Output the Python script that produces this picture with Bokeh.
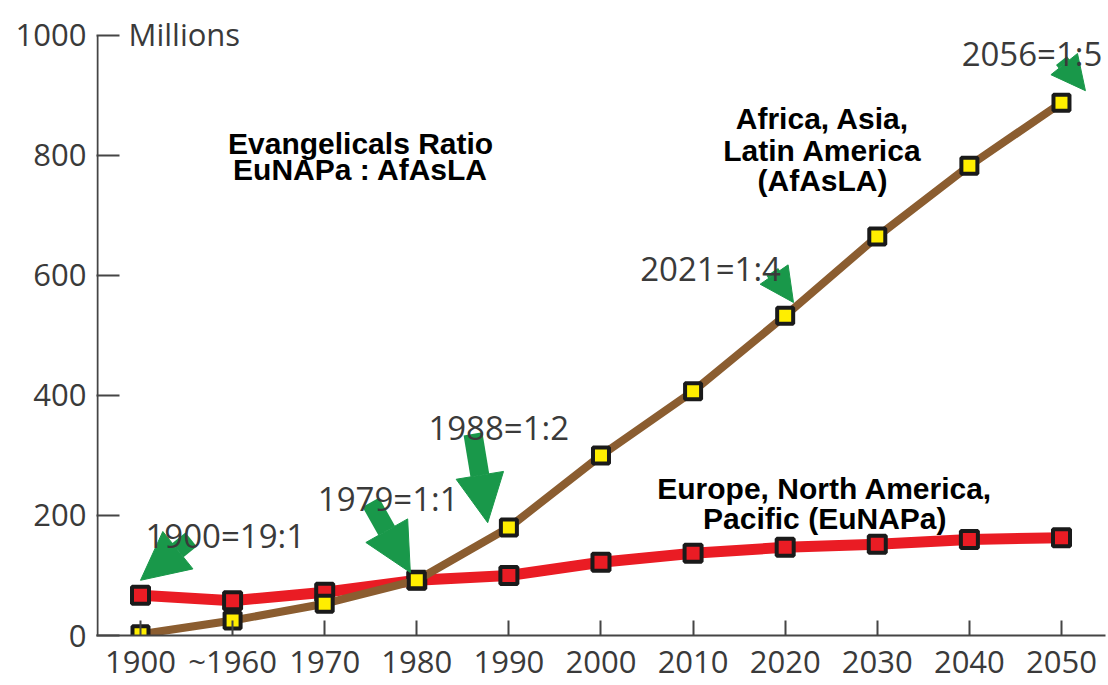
from bokeh.plotting import figure
from bokeh.models import Range1d, FixedTicker, Label, Arrow, NormalHead, ColumnDataSource
from bokeh.embed import file_html
from bokeh.resources import INLINE

# ---- data ----
years = ["1900", "~1960", "1970", "1980", "1990", "2000", "2010", "2020", "2030", "2040", "2050"]
afasla = [2, 25, 53, 92, 180, 300, 407, 533, 665, 783, 888]      # Africa, Asia, Latin America
eunapa = [67, 58, 72, 92, 100, 122, 137, 147, 152, 160, 163]     # Europe, North America, Pacific
y_ticks = [0, 200, 400, 600, 800, 1000]

idx = list(range(len(years)))
src = ColumnDataSource(dict(x=idx, afasla=afasla, eunapa=eunapa))

TXT = "#3a3a3a"
GREEN = "#19984a"
BROWN = "#8b5d30"
RED = "#ea1c24"
AX = "#454545"

X0, X1 = -0.4777, 10.478
Y_TOP = 1058.3

p = figure(width=1108, height=685, output_backend="svg", toolbar_location=None,
           x_range=Range1d(X0, X1), y_range=Range1d(0, Y_TOP),
           min_border_left=96, min_border_right=3, min_border_top=0, min_border_bottom=50)
p.outline_line_color = None
p.grid.visible = False
p.background_fill_color = "white"
p.border_fill_color = "white"

# axes
p.xaxis.ticker = FixedTicker(ticks=idx)
p.xaxis.major_label_overrides = {i: years[i] for i in idx}
p.yaxis.ticker = FixedTicker(ticks=y_ticks)
for ax in (p.xaxis, p.yaxis):
    ax.axis_line_color = AX
    ax.axis_line_width = 2
    ax.major_tick_line_color = AX
    ax.major_tick_line_width = 2
    ax.major_tick_out = 0
    ax.minor_tick_line_color = None
    ax.major_label_text_font = "Open Sans"
    ax.major_label_text_font_size = "31px"
    ax.major_label_text_color = TXT
p.xaxis.major_tick_in = 15
p.yaxis.major_tick_in = 23
p.xaxis.major_label_standoff = 4
p.yaxis.major_label_standoff = 10
# the vertical axis line stops at the top tick (1000)
p.yaxis.axis_line_color = None
p.segment(x0=[X0 + 0.011], y0=[0], x1=[X0 + 0.011], y1=[y_ticks[-1]], line_color=AX, line_width=2)

# series
p.line("x", "eunapa", source=src, line_color=RED, line_width=11, line_join="round")
p.scatter("x", "eunapa", source=src, marker="square", size=17, fill_color=RED,
          line_color="#1a1a1a", line_width=4)
p.line("x", "afasla", source=src, line_color=BROWN, line_width=8, line_join="round")
p.scatter("x", "afasla", source=src, marker="square", size=16, fill_color="#ffee00",
          line_color="#1a1a1a", line_width=4)

# green arrows
def arrow(x0, y0, x1, y1, w, hs):
    p.add_layout(Arrow(end=NormalHead(size=hs, fill_color=GREEN, line_color=GREEN, line_width=1),
                       x_start=x0, y_start=y0, x_end=x1, y_end=y1,
                       line_color=GREEN, line_width=w))

arrow(0.55, 160, 0.0, 92, 18, 48)
arrow(2.50, 222, 2.93, 105, 19, 48)
arrow(3.61, 336, 3.77, 188, 19, 48)
arrow(6.86, 606, 7.09, 555, 14, 34)
arrow(10.00, 958, 10.26, 908, 14, 34)

# ratio annotations
def note(x, y, t, size="33px", align="center"):
    p.add_layout(Label(x=x, y=y, text=t, text_font="Open Sans", text_font_size=size,
                       text_color=TXT, text_align=align, text_baseline="alphabetic"))

note(0.92, 167, "1900=19:1")
note(2.69, 228, "1979=1:1")
note(3.89, 347, "1988=1:2")
note(6.19, 612, "2021=1:4")
note(9.68, 970, "2056=1:5")
note(-0.13, 1003, "Millions", size="31px", align="left")

# bold titles
def bold(x, y, t):
    p.add_layout(Label(x=x, y=y, text=t, text_font="Liberation Sans", text_font_style="bold",
                       text_font_size="30px", text_color="black", text_align="center",
                       text_baseline="alphabetic"))

bold(2.39, 820, "Evangelicals Ratio")
bold(2.39, 777, "EuNAPa : AfAsLA")
bold(7.405, 862, "Africa, Asia,")
bold(7.405, 808, "Latin America")
bold(7.405, 758, "(AfAsLA)")
bold(7.43, 245, "Europe, North America,")
bold(7.43, 195, "Pacific (EuNAPa)")

open("out.html", "w").write(file_html(p, INLINE))
